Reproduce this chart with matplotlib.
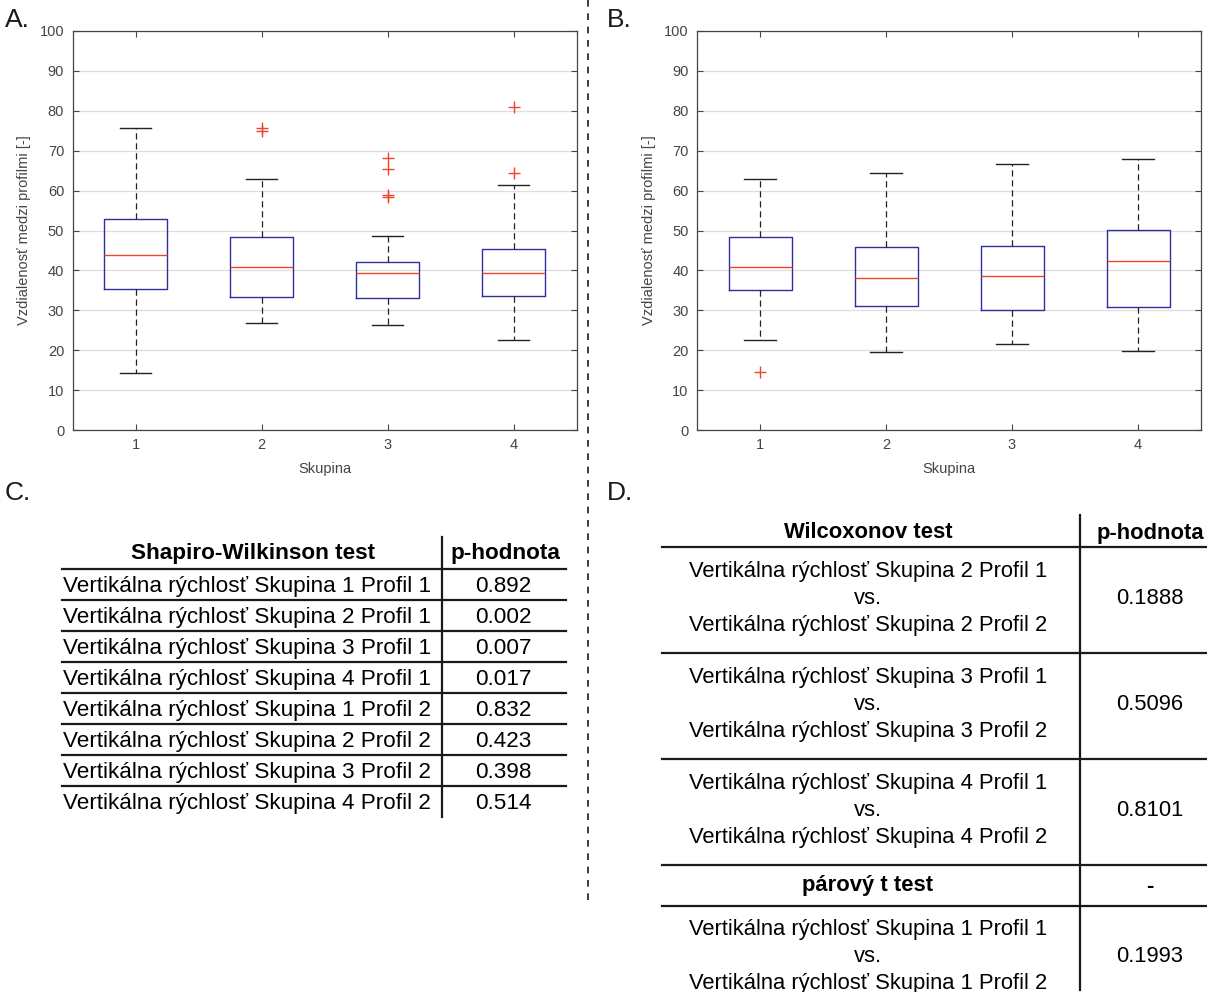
import matplotlib
matplotlib.use("Agg")
import matplotlib.pyplot as plt
from matplotlib.lines import Line2D

plt.rcParams['font.family'] = ['Liberation Sans', 'DejaVu Sans']

W, H = 1207, 992

# boxplot statistics (A = profil 1, B = profil 2)
skupiny = [1, 2, 3, 4]
a_whislo = [14.2, 26.7, 26.4, 22.6]
a_q1 = [35.4, 33.4, 33.1, 33.6]
a_med = [43.8, 40.9, 39.4, 39.3]
a_q3 = [52.9, 48.3, 42.2, 45.4]
a_whishi = [75.6, 63.0, 48.5, 61.3]
a_fliers = [[], [75.6, 75.0], [68.2, 65.3, 58.9, 58.3], [81.0, 64.3]]

b_whislo = [22.5, 19.5, 21.5, 19.7]
b_q1 = [35.2, 31.1, 30.0, 30.8]
b_med = [40.8, 38.1, 38.6, 42.4]
b_q3 = [48.4, 45.9, 46.1, 50.2]
b_whishi = [62.8, 64.4, 66.6, 68.0]
b_fliers = [[14.5], [], [], []]

# tabulky
sw_header = ["Shapiro-Wilkinson test", "p-hodnota"]
sw_labels = ["Vertikálna rýchlosť Skupina %d Profil %d" % (s, p)
             for p in (1, 2) for s in (1, 2, 3, 4)]
sw_p = ["0.892", "0.002", "0.007", "0.017", "0.832", "0.423", "0.398", "0.514"]

wx_header = ["Wilcoxonov test", "p-hodnota"]
wx_groups = [2, 3, 4]
wx_p = ["0.1888", "0.5096", "0.8101"]
tt_header = ["párový t test", "-"]
tt_groups = [1]
tt_p = ["0.1993"]


def fx(x):
    return x / W


def fy(y):
    return 1 - y / H


def hline(fig, x0, x1, y, lw=1.6):
    fig.add_artist(Line2D([fx(x0), fx(x1)], [fy(y), fy(y)], color='#1a1a1a', lw=lw))


def vline(fig, x, y0, y1, lw=1.6, **kw):
    fig.add_artist(Line2D([fx(x), fx(x)], [fy(y0), fy(y1)], color='#1a1a1a', lw=lw, **kw))


def boxplot_panel(fig, left, whislo, q1, med, q3, whishi, fliers):
    ax = fig.add_axes([fx(left), fy(430), 504 / W, 399 / H])
    stats = []
    for i in range(len(skupiny)):
        stats.append(dict(whislo=whislo[i], q1=q1[i], med=med[i], q3=q3[i],
                          whishi=whishi[i], fliers=fliers[i]))
    ax.bxp(stats, positions=skupiny, widths=0.5, capwidths=0.25, manage_ticks=False,
           boxprops=dict(color='#2e2ea0', lw=1.0),
           medianprops=dict(color='#f0442a', lw=1.0),
           whiskerprops=dict(color='#222222', lw=0.9, linestyle=(0, (5, 3))),
           capprops=dict(color='#222222', lw=1.0),
           flierprops=dict(marker='+', markeredgecolor='#f0442a', markersize=8,
                           markeredgewidth=1.0, linestyle='none'))
    ax.set_xlim(0.5, 4.5)
    ax.set_ylim(0, 100)
    ax.set_xticks(skupiny)
    ax.set_yticks(range(0, 101, 10))
    ax.yaxis.grid(True, color='#dedede', lw=0.9)
    ax.set_axisbelow(True)
    ax.tick_params(direction='in', top=True, right=True, length=4, width=0.8,
                   colors='#444444', labelsize=10.5, pad=6)
    for s in ax.spines.values():
        s.set_color('#444444')
        s.set_linewidth(0.9)
    ax.set_xlabel("Skupina", fontsize=10.5, color='#444444', labelpad=7)
    ax.set_ylabel("Vzdialenosť medzi profilmi [-]", fontsize=10.5, color='#444444', labelpad=6)
    return ax


fig = plt.figure(figsize=(W / 100, H / 100), dpi=100)

boxplot_panel(fig, 72.5, a_whislo, a_q1, a_med, a_q3, a_whishi, a_fliers)
boxplot_panel(fig, 697, b_whislo, b_q1, b_med, b_q3, b_whishi, b_fliers)

# popisky panelov
for lab, x, y in [("A.", 5, 20), ("B.", 607, 20), ("C.", 5, 493), ("D.", 607, 493)]:
    fig.text(fx(x), fy(y), lab, fontsize=19, ha='left', va='center', color='#1a1a1a')

# prerusovana deliaca ciara
vline(fig, 588, 0, 900, lw=1.2, linestyle=(0, (4, 4)))

# tabulka C
fs = 16.2
fig.text(fx(253), fy(559), sw_header[0], fontsize=fs, fontweight='bold', ha='center', va='baseline')
fig.text(fx(505), fy(559), sw_header[1], fontsize=fs, fontweight='bold', ha='center', va='baseline')
row_h = 31
vline(fig, 442, 537, 569 + row_h * len(sw_labels))
for i in range(len(sw_labels)):
    y_top = 569 + i * row_h
    hline(fig, 62, 566, y_top)
    fig.text(fx(63), fy(y_top + 23), sw_labels[i], fontsize=fs, ha='left', va='baseline')
    fig.text(fx(503), fy(y_top + 23), sw_p[i], fontsize=fs, ha='center', va='baseline')

# tabulka D
fs_d = 15.8
cx, px_ = 868, 1150
fig.text(fx(cx), fy(533), wx_header[0], fontsize=fs_d, fontweight='bold', ha='center', va='center')
fig.text(fx(px_), fy(533), wx_header[1], fontsize=fs_d, fontweight='bold', ha='center', va='center')
vline(fig, 1080, 515, 990)
hline(fig, 662, 1207, 547)


def pair_row(y0, g, p):
    lines = ["Vertikálna rýchlosť Skupina %d Profil 1" % g, "vs.",
             "Vertikálna rýchlosť Skupina %d Profil 2" % g]
    for k, t in enumerate(lines):
        fig.text(fx(cx), fy(y0 + 25 + k * 26.5), t, fontsize=fs_d, ha='center', va='center')
    fig.text(fx(px_), fy(y0 + 51.5), p, fontsize=fs_d, ha='center', va='center')


y = 547
for g, p in zip(wx_groups, wx_p):
    pair_row(y, g, p)
    y += 106
    hline(fig, 662, 1207, y)

fig.text(fx(cx), fy(y + 21), tt_header[0], fontsize=fs_d, fontweight='bold', ha='center', va='center')
fig.text(fx(px_), fy(y + 21), tt_header[1], fontsize=fs_d, fontweight='bold', ha='center', va='center')
y += 41
hline(fig, 662, 1207, y)
for g, p in zip(tt_groups, tt_p):
    pair_row(y - 1, g, p)

fig.savefig("out.png", dpi=100)
